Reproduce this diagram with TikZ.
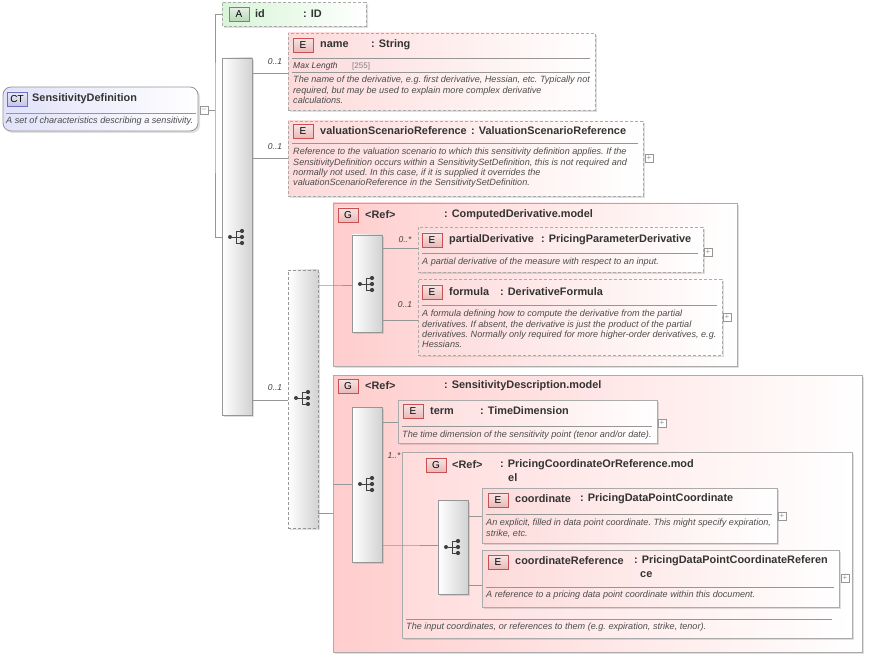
\documentclass[tikz,border=0pt]{standalone}
\usepackage{fontspec}
\setmainfont{Liberation Sans}
\usetikzlibrary{shadows, shapes.misc, positioning}
\definecolor{ElemPink}{RGB}{253, 218, 218}
\definecolor{GroupPink}{RGB}{255, 205, 205}
\definecolor{BadgeRed}{RGB}{200, 80, 80}
\definecolor{BadgeFill}{RGB}{248, 185, 185}
\definecolor{CTBlue}{RGB}{225, 225, 250}
\definecolor{CTBorder}{RGB}{110, 110, 190}
\definecolor{AttrGreen}{RGB}{215, 245, 215}
\definecolor{AttrBorder}{RGB}{80, 160, 80}
\definecolor{LineGray}{RGB}{150, 150, 150}

\tikzset{
  box/.style={rectangle, outer sep=0pt, inner sep=0pt, anchor=north west, line width=0.8pt,
    drop shadow={shadow xshift=2pt, shadow yshift=-2pt, opacity=0.25}},
  elem/.style={box, draw=LineGray!80, left color=ElemPink, right color=white},
  optelem/.style={elem, dashed, dash pattern=on 3pt off 2pt},
  grp/.style={box, draw=LineGray!80, left color=GroupPink, right color=white},
  seqbar/.style={box, draw=LineGray, left color=white, right color=gray!35},
  optbar/.style={seqbar, dashed, dash pattern=on 3pt off 2pt},
  badge/.style={draw=#1, line width=0.6pt, top color=#1!15, bottom color=#1!40, inner sep=0pt,
    minimum width=20pt, minimum height=14pt, font=\fontsize{10}{10}\selectfont},
  ttl/.style={anchor=west, inner sep=0pt, font=\fontsize{10.9}{12}\selectfont\bfseries, text=black!80},
  desc/.style={anchor=north west, inner sep=0pt, align=left, text=black!70,
    font=\fontsize{9.1}{10.3}\selectfont\itshape\frenchspacing},
  card/.style={font=\fontsize{8.5}{9}\selectfont\itshape, text=black!75, inner sep=0pt},
  conn/.style={draw=LineGray, line width=0.7pt},
  sepline/.style={draw=LineGray, line width=0.5pt},
  plusbox/.style={draw=LineGray, fill=white, line width=0.5pt, minimum size=8pt, inner sep=0pt,
    font=\fontsize{8}{8}\selectfont, text=LineGray},
}

% sequence glyph
\newcommand{\seqicon}[1]{%
  \begin{scope}[shift={(#1)}]
    \fill[black!75] (-7,0) circle (2pt);
    \draw[black!75, line width=0.9pt] (-7,0) -- (-1,0) (-1,-6) -- (-1,6)
      (-1,-6) -- (4,-6) (-1,0) -- (4,0) (-1,6) -- (4,6);
    \foreach \yy in {-6,0,6} \fill[black!75] (5,\yy) circle (2.1pt);
  \end{scope}}

\begin{document}
\begin{tikzpicture}[x=1pt, y=-1pt]
  \useasboundingbox (0,0) rectangle (870,660);

  % complex type
  \node[box, rounded corners=8pt, draw=LineGray, left color=CTBlue, right color=white,
        minimum width=195pt, minimum height=44pt] (ct) at (3,87) {};
  \node[badge=CTBorder] at (17,99) {CT};
  \node[ttl] at (32,99) {SensitivityDefinition};
  \draw[sepline] (6,113) -- (196,113);
  \node[desc] at (6,117) {A set of characteristics describing a sensitivity.};
  \node[plusbox] (ctminus) at (204,110) {--};

  % attribute
  \node[box, chamfered rectangle, chamfered rectangle corners={north west, south west},
        chamfered rectangle xsep=7pt, draw=LineGray!80, dashed, dash pattern=on 3pt off 2pt,
        left color=AttrGreen, right color=white, minimum width=144pt, minimum height=24pt] (attr) at (222,2) {};
  \node[badge=AttrBorder] at (239,14) {A};
  \node[ttl] at (255,14) {id};
  \node[ttl] at (303,14) {: ID};

  % main sequence
  \node[seqbar, minimum width=30pt, minimum height=357pt] (seqA) at (222,58) {};
  \seqicon{237,237}
  \coordinate (split) at (215,110);
  \draw[conn] (ctminus.east) -- (split);
  \draw[conn] (attr.west) -| (split) |- (seqA.west |- 0,237);

  % name
  \node[optelem, minimum width=307pt, minimum height=77pt] (name) at (288,33) {};
  \node[badge=BadgeRed] at (303,45) {E};
  \node[ttl] at (320,45) {name};
  \node[ttl] at (371,45) {: String};
  \draw[sepline] (292,58) -- (590,58);
  \node[card, anchor=west] at (293,66) {Max Length};
  \node[anchor=west, inner sep=0pt, font=\fontsize{8}{8}\selectfont, text=gray] at (352,66) {[255]};
  \draw[sepline] (292,72) -- (590,72);
  \node[desc] at (293,76) {The name of the derivative, e.g. first derivative, Hessian, etc. Typically not\\
    required, but may be used to explain more complex derivative\\calculations.};
  \draw[conn] (seqA.east |- 0,73) -- (name.west |- 0,73);
  \node[card] at (275,62) {0..1};

  % valuationScenarioReference
  \node[optelem, minimum width=355pt, minimum height=75pt] (valref) at (288,121) {};
  \node[badge=BadgeRed] at (303,131) {E};
  \node[ttl] at (320,131) {valuationScenarioReference};
  \node[ttl] at (471,131) {: ValuationScenarioReference};
  \draw[sepline] (292,143) -- (638,143);
  \node[desc] at (293,148) {Reference to the valuation scenario to which this sensitivity definition applies. If the\\
    SensitivityDefinition occurs within a SensitivitySetDefinition, this is not required and\\
    normally not used. In this case, if it is supplied it overrides the\\
    valuationScenarioReference in the SensitivitySetDefinition.};
  \node[plusbox] at (649,158) {+};
  \draw[conn] (seqA.east |- 0,158) -- (valref.west |- 0,158);
  \node[card] at (275,147) {0..1};

  % optional inner sequence
  \node[optbar, minimum width=30pt, minimum height=258pt] (seqB) at (288,270) {};
  \seqicon{303,398}
  \draw[conn] (seqA.east |- 0,400) -- (seqB.west |- 0,400);
  \node[card] at (275,388) {0..1};

  % ComputedDerivative.model
  \node[grp, minimum width=404pt, minimum height=163pt] (grpCD) at (333,203) {};
  \node[badge=BadgeRed] at (348,215) {G};
  \node[ttl] at (365,215) {<Ref>};
  \node[ttl] at (444,215) {: ComputedDerivative.model};
  \node[seqbar, minimum width=30pt, minimum height=97pt] (seqC) at (352,235) {};
  \seqicon{367,284}
  \draw[conn] (seqB.east |- 0,285) -- (grpCD.west |- 0,285) -- (seqC.west |- 0,285);

  \node[optelem, minimum width=285pt, minimum height=45pt] (partial) at (418,227) {};
  \node[badge=BadgeRed] at (432,240) {E};
  \node[ttl] at (449,240) {partialDerivative};
  \node[ttl] at (541,240) {: PricingParameterDerivative};
  \draw[sepline] (422,253) -- (698,253);
  \node[desc] at (422,258) {A partial derivative of the measure with respect to an input.};
  \node[plusbox] at (708,252) {+};
  \draw[conn] (seqC.east |- 0,248) -- (partial.west |- 0,248);
  \node[card] at (405,240) {0..*};

  \node[optelem, minimum width=304pt, minimum height=76pt] (formula) at (418,279) {};
  \node[badge=BadgeRed] at (432,292) {E};
  \node[ttl] at (449,292) {formula};
  \node[ttl] at (500,292) {: DerivativeFormula};
  \draw[sepline] (422,305) -- (717,305);
  \node[desc] at (422,310) {A formula defining how to compute the derivative from the partial\\
    derivatives. If absent, the derivative is just the product of the partial\\
    derivatives. Normally only required for more higher-order derivatives, e.g.\\Hessians.};
  \node[plusbox] at (727,317) {+};
  \draw[conn] (seqC.east |- 0,320) -- (formula.west |- 0,320);
  \node[card] at (405,305) {0..1};

  % SensitivityDescription.model
  \node[grp, minimum width=529pt, minimum height=277pt] (grpSD) at (333,375) {};
  \node[badge=BadgeRed] at (348,386) {G};
  \node[ttl] at (365,386) {<Ref>};
  \node[ttl] at (444,386) {: SensitivityDescription.model};
  \node[seqbar, minimum width=30pt, minimum height=155pt] (seqD) at (352,407) {};
  \seqicon{367,484}
  \draw[conn] (seqB.east |- 0,513) -- (grpSD.west |- 0,513);
  \draw[conn] (grpSD.west |- 0,484) -- (seqD.west |- 0,484);

  \node[elem, minimum width=259pt, minimum height=43pt] (term) at (398,400) {};
  \node[badge=BadgeRed] at (413,411) {E};
  \node[ttl] at (430,411) {term};
  \node[ttl] at (480,411) {: TimeDimension};
  \draw[sepline] (402,426) -- (652,426);
  \node[desc] at (402,431) {The time dimension of the sensitivity point (tenor and/or date).};
  \node[plusbox] at (662,423) {+};
  \draw[conn] (seqD.east |- 0,422) -- (term.west |- 0,422);

  % PricingCoordinateOrReference.model
  \node[grp, left color=GroupPink!70, minimum width=450pt, minimum height=186pt] (grpPC) at (402,452) {};
  \node[card] at (394,456) {1..*};
  \node[badge=BadgeRed] at (436,465) {G};
  \node[ttl] at (452,465) {<Ref>};
  \node[ttl] at (500,465) {: PricingCoordinateOrReference.mod};
  \node[ttl] at (508,478) {el};
  \node[seqbar, minimum width=30pt, minimum height=94pt] (seqE) at (438,500) {};
  \seqicon{453,547}
  \draw[conn] (seqD.east |- 0,545) -- (grpPC.west |- 0,545) -- (seqE.west |- 0,545);

  \node[elem, minimum width=295pt, minimum height=55pt] (coord) at (482,488) {};
  \node[badge=BadgeRed] at (498,500) {E};
  \node[ttl] at (515,499) {coordinate};
  \node[ttl] at (580,499) {: PricingDataPointCoordinate};
  \draw[sepline] (486,514) -- (772,514);
  \node[desc] at (486,519) {An explicit, filled in data point coordinate. This might specify expiration,\\strike, etc.};
  \node[plusbox] at (782,516) {+};
  \draw[conn] (seqE.east |- 0,516) -- (coord.west |- 0,516);

  \node[elem, minimum width=357pt, minimum height=57pt] (coordref) at (482,550) {};
  \node[badge=BadgeRed] at (498,562) {E};
  \node[ttl] at (515,561) {coordinateReference};
  \node[ttl] at (634,561) {: PricingDataPointCoordinateReferen};
  \node[ttl] at (640,575) {ce};
  \draw[sepline] (486,587) -- (834,587);
  \node[desc] at (486,591) {A reference to a pricing data point coordinate within this document.};
  \node[plusbox] at (845,578) {+};
  \draw[conn] (seqE.east |- 0,585) -- (coordref.west |- 0,585);

  \draw[sepline] (406,619) -- (832,619);
  \node[desc] at (406,623) {The input coordinates, or references to them (e.g. expiration, strike, tenor).};
\end{tikzpicture}
\end{document}
